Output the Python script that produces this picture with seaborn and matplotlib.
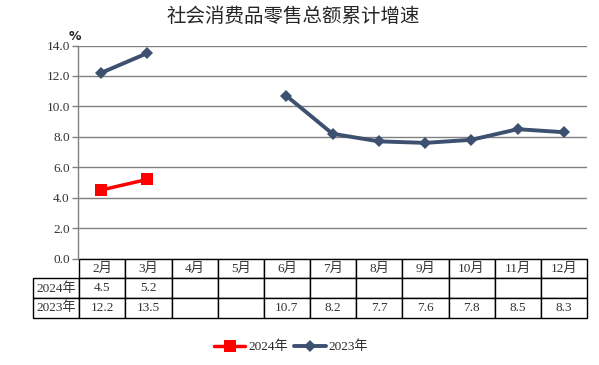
"""社会消费品零售总额累计增速：折线 + 底部数据表。"""

import matplotlib

matplotlib.use("Agg")
import matplotlib.pyplot as plt
import numpy as np
import pandas as pd
import seaborn as sns

MONTHS = ["2月", "3月", "4月", "5月", "6月", "7月", "8月", "9月", "10月", "11月", "12月"]
SERIES = ["2024年", "2023年"]
VALUES_2024 = [4.5, 5.2, np.nan, np.nan, np.nan, np.nan, np.nan, np.nan, np.nan, np.nan, np.nan]
VALUES_2023 = [12.2, 13.5, np.nan, np.nan, 10.7, 8.2, 7.7, 7.6, 7.8, 8.5, 8.3]
Y_TICKS = [0.0, 2.0, 4.0, 6.0, 8.0, 10.0, 12.0, 14.0]

TITLE = "社会消费品零售总额累计增速"
COLORS = {"2024年": "#ff0000", "2023年": "#3d5070"}
MARKERS = {"2024年": "s", "2023年": "D"}
MSIZE = {"2024年": 8, "2023年": 6.5}
LWIDTH = {"2024年": 2.5, "2023年": 2.8}


def to_long(name, values):
    df = pd.DataFrame({"pos": range(len(MONTHS)), "month": MONTHS, "value": values})
    # 连续段编号，缺失值处断开
    df["segment"] = df["value"].isna().cumsum()
    df = df.dropna(subset=["value"])
    df["series"] = name
    df["segment"] = name + "-" + df["segment"].astype(str)
    return df


sns.set_theme(style="white")
plt.rcParams["font.family"] = ["Liberation Serif", "Noto Sans CJK SC", "DejaVu Sans"]

fig = plt.figure(figsize=(5.99, 3.65), dpi=100)
ax = fig.add_axes([78 / 599, 1 - 258.5 / 365, 509 / 599, 213 / 365])

for name, values in zip(SERIES, [VALUES_2024, VALUES_2023]):
    sns.lineplot(
        data=to_long(name, values),
        x="pos",
        y="value",
        units="segment",
        estimator=None,
        color=COLORS[name],
        marker=MARKERS[name],
        markersize=MSIZE[name],
        markeredgewidth=0,
        linewidth=LWIDTH[name],
        label=name,
        ax=ax,
        zorder=3,
    )

ax.set_xlim(-0.5, len(MONTHS) - 0.5)
ax.set_ylim(0, 14)
ax.set_yticks(Y_TICKS)
ax.set_yticklabels([f"{v:.1f}" for v in Y_TICKS], fontsize=9.5, color="#333333")
ax.set_xticks([])
ax.set_xlabel("")
ax.set_ylabel("")
ax.tick_params(axis="y", length=4, width=1, color="#808080", left=True, pad=2)
ax.yaxis.grid(True, color="#808080", linewidth=1)
for side in ["top", "right", "bottom"]:
    ax.spines[side].set_visible(False)
ax.spines["left"].set_color("#808080")
ax.spines["left"].set_linewidth(1)


# 底部数据表
def fmt(v):
    return "" if np.isnan(v) else f"{v:.1f}"


rows = [
    ["2024年"] + [fmt(v) for v in VALUES_2024],
    ["2023年"] + [fmt(v) for v in VALUES_2023],
]
tbl = ax.table(
    cellText=rows,
    colLabels=[""] + MONTHS,
    cellLoc="center",
    bbox=[-45 / 509, -59.5 / 213, 554 / 509, 59.5 / 213],
)
tbl.auto_set_font_size(False)
tbl.set_fontsize(9.5)
for (r, c), cell in tbl.get_celld().items():
    cell.set_edgecolor("black")
    cell.set_linewidth(1)
    cell.get_text().set_color("#333333")
    if r == 0 and c == 0:
        cell.visible_edges = ""
        cell.set_facecolor("none")

# 每个系列只保留一个图例项
handles, labels = ax.get_legend_handles_labels()
uniq = dict(zip(labels, handles))
ax.legend(
    list(uniq.values()),
    list(uniq.keys()),
    loc="center",
    bbox_to_anchor=(291 / 599, 1 - 347 / 365),
    bbox_transform=fig.transFigure,
    ncol=2,
    frameon=False,
    fontsize=9.5,
    handlelength=2.4,
    handletextpad=0.2,
    columnspacing=0.5,
)

fig.text(293 / 599, 1 - 17 / 365, TITLE, ha="center", va="center", fontsize=14,
         family=["Noto Sans CJK SC"])
fig.text(75 / 599, 1 - 37 / 365, "%", ha="center", va="center", fontsize=9,
         fontweight="bold", family=["DejaVu Sans"])

fig.savefig("out.png", dpi=100)
